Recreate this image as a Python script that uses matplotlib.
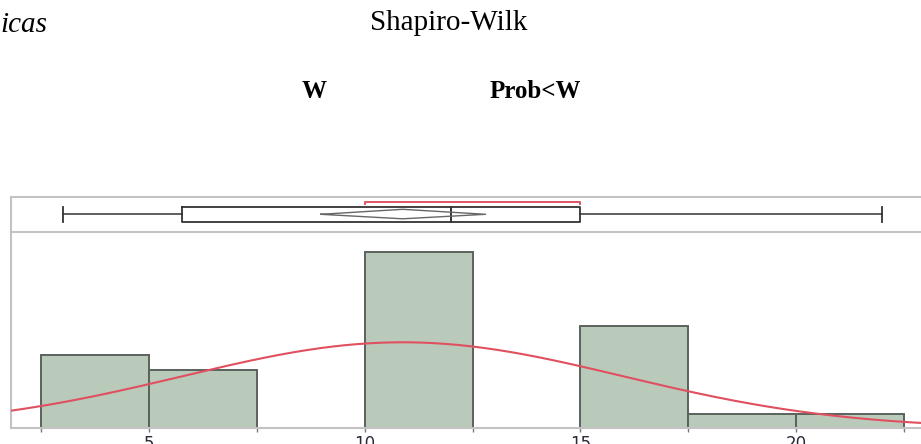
import matplotlib
matplotlib.use("Agg")
import matplotlib.pyplot as plt
import numpy as np
from matplotlib.transforms import Bbox

# ---- data ----
bin_edges = [2.5, 5, 7.5, 10, 12.5, 15, 17.5, 20, 22.5]
counts = [5, 4, 0, 12, 0, 7, 1, 1]
tick_labels = [5, 10, 15, 20]

whisker_low, q1, median, q3, whisker_high = 3.0, 5.75, 12.0, 15.0, 22.0
mean, ci_low, ci_high = 10.88, 8.98, 12.8
shortest_half = [10.0, 15.0]
fit_mean, fit_sd, n_obs = 10.88, 5.1, 30

W = 921 / 100
H = 444 / 100
fig = plt.figure(figsize=(W, H), dpi=100)

def fx(px):
    return px / 921

def fy(py):
    return 1 - py / 444

xlim = (1.789, 22.94)
gray = "#c3c3c3"

# ---- histogram axes ----
axh = fig.add_axes([fx(10.7), fy(428.3), 1 - fx(10.7) + 0.002, fy(232) - fy(428.3)])
widths = np.diff(bin_edges)
axh.bar(bin_edges[:-1], counts, width=widths, align="edge",
        color="#b9cabb", edgecolor="#5b615d", linewidth=1.4, zorder=2)
xs = np.linspace(xlim[0], xlim[1], 400)
binw = bin_edges[1] - bin_edges[0]
ys = n_obs * binw / (fit_sd * np.sqrt(2 * np.pi)) * np.exp(-(xs - fit_mean) ** 2 / (2 * fit_sd ** 2))
axh.plot(xs, ys, color="#e0505f", lw=1.5, zorder=3)
axh.set_xlim(*xlim)
axh.set_ylim(0, 13.39)
axh.set_yticks([])
axh.set_xticks(bin_edges)
axh.set_xticklabels([str(t) if t in tick_labels else "" for t in bin_edges])
axh.tick_params(axis="x", length=3, width=1, color="#777777", pad=2,
                labelsize=12, labelcolor="#2a2a3a")
for s in ["top", "right"]:
    axh.spines[s].set_visible(False)
for s in ["left", "bottom"]:
    axh.spines[s].set_color(gray)
    axh.spines[s].set_linewidth(1.5)

# ---- box plot axes ----
axb = fig.add_axes([fx(10.7), fy(232), 1 - fx(10.7) + 0.002, fy(197) - fy(232)])
axb.set_xlim(*xlim)
axb.set_ylim(232, 197)  # pixel-like vertical coords, inverted
axb.set_xticks([])
axb.set_yticks([])
axb.spines["right"].set_visible(False)
for s in ["left", "top", "bottom"]:
    axb.spines[s].set_color(gray)
    axb.spines[s].set_linewidth(1.5)

lc = "#333333"
yc, ytop, ybot = 214.3, 207.3, 221.7
axb.plot([whisker_low, q1], [yc, yc], color=lc, lw=1.1)
axb.plot([q3, whisker_high], [yc, yc], color=lc, lw=1.1)
axb.plot([whisker_low, whisker_low], [ytop, ybot], color=lc, lw=1.3)
axb.plot([whisker_high, whisker_high], [ytop, ybot], color=lc, lw=1.3)
axb.plot([q1, q3, q3, q1, q1], [ytop, ytop, ybot, ybot, ytop], color=lc, lw=1.3)
axb.plot([median, median], [ytop, ybot], color=lc, lw=1.4)
axb.plot([ci_low, mean, ci_high, mean, ci_low], [yc, 209.3, yc, 218.8, yc], color="#666666", lw=1.0)
axb.plot([shortest_half[0], shortest_half[0], shortest_half[1], shortest_half[1]],
         [203.9, 201.7, 201.7, 203.9], color="#e05565", lw=1.4)

# ---- header texts ----
fig.text(fx(449), fy(30), "Shapiro-Wilk", family="Liberation Serif", fontsize=21,
         ha="center", va="baseline", color="#000000")
t = fig.text(fx(0), fy(32), "icas", family="Liberation Serif", style="italic", fontsize=21,
             ha="left", va="baseline", color="#000000")
t.set_clip_box(Bbox.from_extents(0, 0, 48, 444))
t.set_clip_on(True)
fig.text(fx(302), fy(98.5), "W", family="Liberation Serif", weight="bold", fontsize=18,
         ha="left", va="baseline")
fig.text(fx(490), fy(98.5), "Prob<W", family="Liberation Serif", weight="bold", fontsize=18,
         ha="left", va="baseline")

fig.savefig("out.png", dpi=100)
